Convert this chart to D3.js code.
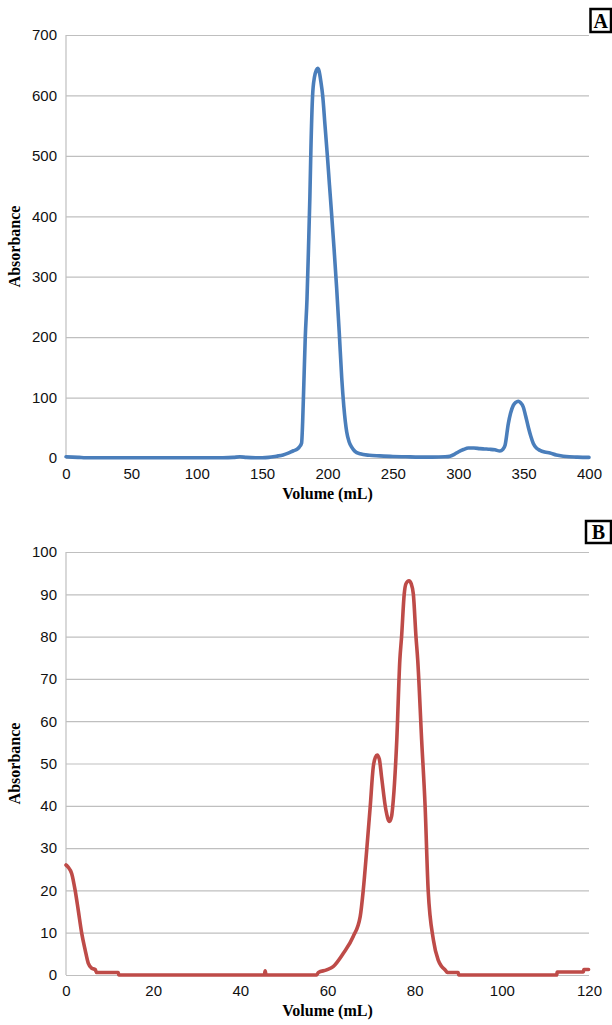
<!DOCTYPE html>
<html>
<head>
<meta charset="utf-8">
<script src="https://cdn.jsdelivr.net/npm/d3@7"></script>
<style>
  html, body { margin: 0; padding: 0; background: #fff; }
  svg { display: block; }
  .tick text { font-family: "Liberation Sans", Arial, sans-serif; font-size: 15px; fill: #111; }
  .title { font-family: "Liberation Serif", "Times New Roman", serif; font-weight: bold; font-size: 16px; fill: #000; }
  .panel-label { font-family: "Liberation Serif", "Times New Roman", serif; font-weight: bold; font-size: 20px; fill: #000; }
</style>
</head>
<body>
<div id="chart"></div>
<script>
// Panel A - elution profile (Volume in mL vs Absorbance)
const volA = [0, 5, 10, 15, 20, 40, 60, 80, 100, 120, 128, 133, 138, 145, 150, 155, 161, 166, 170, 174, 176.4, 178.4, 180.2,
  181, 182, 183, 184.3, 185.5, 186.5, 187.3, 188.6, 190, 191.5, 192.5, 193.5, 195, 196.3, 198, 199.9, 201.5, 203.2, 205, 207,
  209, 210.9, 212.5, 214.7, 216.5, 218.5, 221, 225, 232, 240, 250, 260, 270, 280, 290, 293.7, 297, 300, 304, 307.7, 312,
  316.6, 320, 324.3, 328, 331.9, 334, 335.8, 338.3, 340, 342.1, 344, 345.9, 347.5, 349.8, 351.5, 353.6, 355.5, 357.4, 360,
  362.5, 366, 370.2, 375, 380.4, 385, 390, 398, 400];
const absA = [2, 1.5, 1, 0.5, 0.5, 0.5, 0.5, 0.5, 0.5, 0.5, 1, 2, 1, 0.5, 0.5, 1, 3, 5, 8, 12, 14, 18, 25,
  60, 130, 200, 262, 350, 430, 510, 600, 630, 642, 645, 641, 622, 600, 553, 500, 452, 402, 347, 281,
  207, 132, 85, 43, 27, 18, 11, 7, 4.5, 3.5, 2.5, 2, 1.5, 1.5, 2, 3, 6, 10, 14, 16.5, 16.5,
  15.5, 15, 14.4, 13.5, 11.6, 14, 21, 57, 74, 87, 92, 94, 92, 84, 70, 51, 36, 24, 16,
  12.7, 10, 8.3, 5, 3, 2, 1.5, 1, 1];
const ticksYA = [0, 100, 200, 300, 400, 500, 600, 700];
const ticksXA = [0, 50, 100, 150, 200, 250, 300, 350, 400];

// Panel B
const volB = [0, 0.5, 1.3, 2.1, 2.8, 3.6, 4.4, 5.1, 5.9, 6.7, 7.0, 12, 12.1, 45.5, 45.7, 45.9, 57.5, 57.9, 59.8, 61.3,
  63.6, 65.9, 67.5, 68.2, 69, 69.8, 70.5, 71, 71.4, 71.9, 72.4, 73.4, 74.2, 74.7, 75.1, 75.9, 76.6, 77, 77.6, 78, 78.7,
  79.2, 79.7, 80.3, 80.7, 81.6, 82.4, 83.1, 84.3, 85.4, 86.2, 87, 87.5, 90, 90.1, 112.6, 112.7, 118.7, 118.8, 119.9];
const absB = [26, 25.5, 24, 20, 15.4, 9.9, 5.9, 2.8, 1.6, 1.3, 0.6, 0.6, 0, 0, 1, 0, 0, 0.6, 1.2, 2,
  5.1, 9.1, 13.8, 20, 29.6, 39.8, 49.2, 51.5, 52, 51, 46.9, 39, 36.3, 37.5, 41.4, 55.6, 74.5, 80, 90, 92.5, 93.2,
  92.5, 90, 80, 74.5, 55.6, 39.8, 20, 8.3, 3.5, 2, 1.2, 0.6, 0.6, 0, 0, 0.7, 0.7, 1.3, 1.3];
const ticksYB = [0, 10, 20, 30, 40, 50, 60, 70, 80, 90, 100];
const ticksXB = [0, 20, 40, 60, 80, 100, 120];

const W = 612, H = 1025;
const svg = d3.select('#chart').append('svg')
  .attr('width', W)
  .attr('height', H);

function drawPanel(cfg) {
  const x = d3.scaleLinear()
    .domain([0, d3.max(cfg.ticksX)])
    .range([cfg.left, cfg.right]);
  const y = d3.scaleLinear()
    .domain([0, d3.max(cfg.ticksY)])
    .range([cfg.bottom, cfg.top]);

  const g = svg.append('g');

  // gridlines + y tick labels
  const yAxis = g.append('g')
    .attr('transform', 'translate(' + cfg.left + ',0)')
    .call(d3.axisLeft(y).tickValues(cfg.ticksY).tickSize(-(cfg.right - cfg.left)).tickPadding(9).tickFormat(d3.format('d')));
  yAxis.select('.domain').remove();
  yAxis.selectAll('.tick line').attr('stroke', '#bfbfbf').attr('stroke-width', 1.2);

  // left axis line
  g.append('line')
    .attr('x1', cfg.left).attr('x2', cfg.left)
    .attr('y1', cfg.top).attr('y2', cfg.bottom)
    .attr('stroke', '#bfbfbf').attr('stroke-width', 1.2);

  // x tick labels
  const xAxis = g.append('g')
    .attr('transform', 'translate(0,' + cfg.bottom + ')')
    .call(d3.axisBottom(x).tickValues(cfg.ticksX).tickSize(0).tickPadding(10).tickFormat(d3.format('d')));
  xAxis.select('.domain').remove();

  // data line
  const line = d3.line()
    .x((d, i) => x(cfg.vol[i]))
    .y(d => y(d))
    .curve(d3.curveMonotoneX);
  g.append('path')
    .datum(cfg.abs)
    .attr('fill', 'none')
    .attr('stroke', cfg.color)
    .attr('stroke-width', 3.6)
    .attr('stroke-linejoin', 'round')
    .attr('stroke-linecap', 'round')
    .attr('d', line);

  // axis titles
  g.append('text')
    .attr('class', 'title')
    .attr('x', (cfg.left + cfg.right) / 2)
    .attr('y', cfg.bottom + 41)
    .attr('text-anchor', 'middle')
    .text('Volume (mL)');
  g.append('text')
    .attr('class', 'title')
    .attr('transform', 'translate(20,' + ((cfg.top + cfg.bottom) / 2) + ') rotate(-90)')
    .attr('text-anchor', 'middle')
    .text('Absorbance');

  // panel letter in a box
  const b = cfg.box;
  g.append('rect')
    .attr('x', b[0]).attr('y', b[1]).attr('width', b[2]).attr('height', b[3])
    .attr('fill', '#fff').attr('stroke', '#000').attr('stroke-width', 2.5);
  g.append('text')
    .attr('class', 'panel-label')
    .attr('x', b[0] + b[2] / 2)
    .attr('y', b[1] + b[3] / 2 + 7)
    .attr('text-anchor', 'middle')
    .text(cfg.label);
}

drawPanel({
  vol: volA, abs: absA, ticksX: ticksXA, ticksY: ticksYA,
  left: 66, right: 589, top: 35, bottom: 458,
  color: '#4a7ebb', label: 'A', box: [590.5, 9, 20.5, 23]
});

drawPanel({
  vol: volB, abs: absB, ticksX: ticksXB, ticksY: ticksYB,
  left: 66, right: 589, top: 552, bottom: 975,
  color: '#be4b48', label: 'B', box: [586, 521, 25, 22]
});
</script>
</body>
</html>
